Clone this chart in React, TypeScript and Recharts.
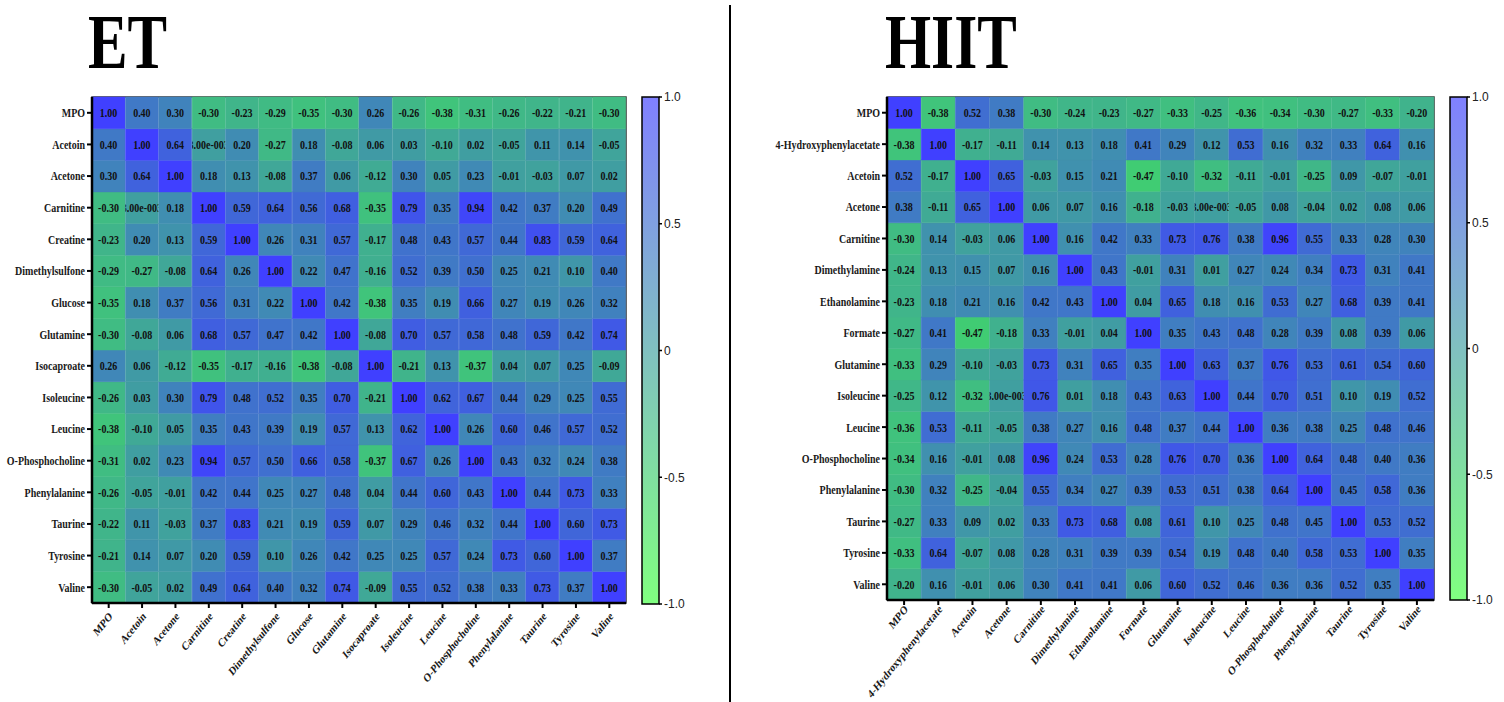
import React from 'react';
import { BarChart, Bar, Cell, XAxis, YAxis, LabelList, ReferenceArea } from 'recharts';

const etLabels = [
  'MPO', 'Acetoin', 'Acetone', 'Carnitine', 'Creatine', 'Dimethylsulfone', 'Glucose', 'Glutamine',
  'Isocaproate', 'Isoleucine', 'Leucine', 'O-Phosphocholine', 'Phenylalanine', 'Taurine', 'Tyrosine', 'Valine',
];

const etValues = [
  [1.0, 0.4, 0.3, -0.3, -0.23, -0.29, -0.35, -0.3, 0.26, -0.26, -0.38, -0.31, -0.26, -0.22, -0.21, -0.3],
  [0.4, 1.0, 0.64, 0.003, 0.2, -0.27, 0.18, -0.08, 0.06, 0.03, -0.1, 0.02, -0.05, 0.11, 0.14, -0.05],
  [0.3, 0.64, 1.0, 0.18, 0.13, -0.08, 0.37, 0.06, -0.12, 0.3, 0.05, 0.23, -0.01, -0.03, 0.07, 0.02],
  [-0.3, 0.003, 0.18, 1.0, 0.59, 0.64, 0.56, 0.68, -0.35, 0.79, 0.35, 0.94, 0.42, 0.37, 0.2, 0.49],
  [-0.23, 0.2, 0.13, 0.59, 1.0, 0.26, 0.31, 0.57, -0.17, 0.48, 0.43, 0.57, 0.44, 0.83, 0.59, 0.64],
  [-0.29, -0.27, -0.08, 0.64, 0.26, 1.0, 0.22, 0.47, -0.16, 0.52, 0.39, 0.5, 0.25, 0.21, 0.1, 0.4],
  [-0.35, 0.18, 0.37, 0.56, 0.31, 0.22, 1.0, 0.42, -0.38, 0.35, 0.19, 0.66, 0.27, 0.19, 0.26, 0.32],
  [-0.3, -0.08, 0.06, 0.68, 0.57, 0.47, 0.42, 1.0, -0.08, 0.7, 0.57, 0.58, 0.48, 0.59, 0.42, 0.74],
  [0.26, 0.06, -0.12, -0.35, -0.17, -0.16, -0.38, -0.08, 1.0, -0.21, 0.13, -0.37, 0.04, 0.07, 0.25, -0.09],
  [-0.26, 0.03, 0.3, 0.79, 0.48, 0.52, 0.35, 0.7, -0.21, 1.0, 0.62, 0.67, 0.44, 0.29, 0.25, 0.55],
  [-0.38, -0.1, 0.05, 0.35, 0.43, 0.39, 0.19, 0.57, 0.13, 0.62, 1.0, 0.26, 0.6, 0.46, 0.57, 0.52],
  [-0.31, 0.02, 0.23, 0.94, 0.57, 0.5, 0.66, 0.58, -0.37, 0.67, 0.26, 1.0, 0.43, 0.32, 0.24, 0.38],
  [-0.26, -0.05, -0.01, 0.42, 0.44, 0.25, 0.27, 0.48, 0.04, 0.44, 0.6, 0.43, 1.0, 0.44, 0.73, 0.33],
  [-0.22, 0.11, -0.03, 0.37, 0.83, 0.21, 0.19, 0.59, 0.07, 0.29, 0.46, 0.32, 0.44, 1.0, 0.6, 0.73],
  [-0.21, 0.14, 0.07, 0.2, 0.59, 0.1, 0.26, 0.42, 0.25, 0.25, 0.57, 0.24, 0.73, 0.6, 1.0, 0.37],
  [-0.3, -0.05, 0.02, 0.49, 0.64, 0.4, 0.32, 0.74, -0.09, 0.55, 0.52, 0.38, 0.33, 0.73, 0.37, 1.0],
];

const hiitLabels = [
  'MPO', '4-Hydroxyphenylacetate', 'Acetoin', 'Acetone', 'Carnitine', 'Dimethylamine', 'Ethanolamine', 'Formate',
  'Glutamine', 'Isoleucine', 'Leucine', 'O-Phosphocholine', 'Phenylalanine', 'Taurine', 'Tyrosine', 'Valine',
];

const hiitValues = [
  [1.0, -0.38, 0.52, 0.38, -0.3, -0.24, -0.23, -0.27, -0.33, -0.25, -0.36, -0.34, -0.3, -0.27, -0.33, -0.2],
  [-0.38, 1.0, -0.17, -0.11, 0.14, 0.13, 0.18, 0.41, 0.29, 0.12, 0.53, 0.16, 0.32, 0.33, 0.64, 0.16],
  [0.52, -0.17, 1.0, 0.65, -0.03, 0.15, 0.21, -0.47, -0.1, -0.32, -0.11, -0.01, -0.25, 0.09, -0.07, -0.01],
  [0.38, -0.11, 0.65, 1.0, 0.06, 0.07, 0.16, -0.18, -0.03, 0.003, -0.05, 0.08, -0.04, 0.02, 0.08, 0.06],
  [-0.3, 0.14, -0.03, 0.06, 1.0, 0.16, 0.42, 0.33, 0.73, 0.76, 0.38, 0.96, 0.55, 0.33, 0.28, 0.3],
  [-0.24, 0.13, 0.15, 0.07, 0.16, 1.0, 0.43, -0.01, 0.31, 0.01, 0.27, 0.24, 0.34, 0.73, 0.31, 0.41],
  [-0.23, 0.18, 0.21, 0.16, 0.42, 0.43, 1.0, 0.04, 0.65, 0.18, 0.16, 0.53, 0.27, 0.68, 0.39, 0.41],
  [-0.27, 0.41, -0.47, -0.18, 0.33, -0.01, 0.04, 1.0, 0.35, 0.43, 0.48, 0.28, 0.39, 0.08, 0.39, 0.06],
  [-0.33, 0.29, -0.1, -0.03, 0.73, 0.31, 0.65, 0.35, 1.0, 0.63, 0.37, 0.76, 0.53, 0.61, 0.54, 0.6],
  [-0.25, 0.12, -0.32, 0.003, 0.76, 0.01, 0.18, 0.43, 0.63, 1.0, 0.44, 0.7, 0.51, 0.1, 0.19, 0.52],
  [-0.36, 0.53, -0.11, -0.05, 0.38, 0.27, 0.16, 0.48, 0.37, 0.44, 1.0, 0.36, 0.38, 0.25, 0.48, 0.46],
  [-0.34, 0.16, -0.01, 0.08, 0.96, 0.24, 0.53, 0.28, 0.76, 0.7, 0.36, 1.0, 0.64, 0.48, 0.4, 0.36],
  [-0.3, 0.32, -0.25, -0.04, 0.55, 0.34, 0.27, 0.39, 0.53, 0.51, 0.38, 0.64, 1.0, 0.45, 0.58, 0.36],
  [-0.27, 0.33, 0.09, 0.02, 0.33, 0.73, 0.68, 0.08, 0.61, 0.1, 0.25, 0.48, 0.45, 1.0, 0.53, 0.52],
  [-0.33, 0.64, -0.07, 0.08, 0.28, 0.31, 0.39, 0.39, 0.54, 0.19, 0.48, 0.4, 0.58, 0.53, 1.0, 0.35],
  [-0.2, 0.16, -0.01, 0.06, 0.3, 0.41, 0.41, 0.06, 0.6, 0.52, 0.46, 0.36, 0.36, 0.52, 0.35, 1.0],
];

const colorbarTicks = [-1, -0.5, 0, 0.5, 1];
const colorbarData = [{ name: 'scale', range: [-1, 1] }];

const SERIF = '"Times New Roman", "Liberation Serif", serif';
const SANS = 'Arial, "Liberation Sans", sans-serif';
// the original figure is squeezed sideways, so all text gets the same squeeze
const SQUEEZE = 0.8;
const FONT = 12.5;

// green (-1) -> teal (0) -> blue (+1)
function cellColor(v: number) {
  const t = (v + 1) / 2;
  const g = Math.round(255 - 191 * t);
  const b = Math.round(64 + 191 * t);
  return `rgb(64, ${g}, ${b})`;
}

// Prism-style: tiny values get printed in exponent form
function formatValue(v: number) {
  if (v !== 0 && Math.abs(v) < 0.005) {
    const [m, e] = v.toExponential(2).split('e');
    return `${m}e${e[0]}${e.slice(1).padStart(3, '0')}`;
  }
  return v.toFixed(2);
}

function buildRows(labels: string[], values: number[][]) {
  return labels.map((name, c) => {
    const row: Record<string, any> = { name };
    values.forEach((vals, r) => {
      row[`r${r}`] = 1;
      row[`v${r}`] = vals[c];
    });
    return row;
  });
}

const CellLabel = (props: any) => {
  const { x, y, width, height, value } = props;
  return (
    <svg x={x} y={y} width={width} height={height} overflow="hidden">
      <g transform={`translate(${width / 2},${height / 2}) scale(${SQUEEZE},1)`}>
        <text
          x={0}
          y={0}
          textAnchor="middle"
          dominantBaseline="central"
          fontFamily={SERIF}
          fontWeight="bold"
          fontSize={FONT}
          fill="#111"
        >
          {formatValue(Number(value))}
        </text>
      </g>
    </svg>
  );
};

const XTick = (props: any) => {
  const { x, y, payload, offset = 2 } = props;
  return (
    <g transform={`translate(${x + 2},${y + offset}) scale(${SQUEEZE},1) rotate(-45)`}>
      <text
        textAnchor="end"
        dy="0.35em"
        fontFamily={SERIF}
        fontWeight="bold"
        fontSize={12}
        fill="#1a1a1a"
      >
        {payload.value}
      </text>
    </g>
  );
};

const YTick = (props: any) => {
  const { x, y, payload, tickFormatter } = props;
  const label = tickFormatter ? tickFormatter(payload.value) : payload.value;
  return (
    <g transform={`translate(${x},${y}) scale(${SQUEEZE},1)`}>
      <text
        textAnchor="end"
        dominantBaseline="central"
        fontFamily={SERIF}
        fontWeight="bold"
        fontSize={FONT}
        fill="#1a1a1a"
      >
        {label}
      </text>
    </g>
  );
};

function Heatmap({
  labels,
  values,
  width,
  yAxisWidth,
  marginLeft,
  marginRight,
  plotBottom,
  xAxisHeight,
  labelOffset,
}: {
  labels: string[];
  values: number[][];
  width: number;
  yAxisWidth: number;
  marginLeft: number;
  marginRight: number;
  plotBottom: number;
  xAxisHeight: number;
  labelOffset: number;
}) {
  const n = labels.length;
  const rows = buildRows(labels, values);
  const order = labels.map((_, i) => n - 1 - i);
  const rowName = (v: number) => labels[Math.round(n - 0.5 - v)];
  return (
    <BarChart
      width={width}
      height={702}
      data={rows}
      margin={{ top: 97, right: marginRight, bottom: 702 - plotBottom - xAxisHeight, left: marginLeft }}
      barCategoryGap={0}
      barGap={0}
    >
      <XAxis
        dataKey="name"
        interval={0}
        height={xAxisHeight}
        tick={<XTick offset={labelOffset} />}
        tickSize={5}
        tickMargin={2}
        axisLine={{ stroke: '#000', strokeWidth: 2.5 }}
        tickLine={{ stroke: '#000', strokeWidth: 2 }}
      />
      <YAxis
        type="number"
        domain={[0, n]}
        ticks={labels.map((_, i) => n - i - 0.5)}
        tickFormatter={rowName}
        interval={0}
        width={yAxisWidth}
        tickSize={5}
        tickMargin={2}
        axisLine={{ stroke: '#000', strokeWidth: 2.5 }}
        tickLine={{ stroke: '#000', strokeWidth: 2 }}
        tick={<YTick tickFormatter={rowName} />}
      />
      {order.map((r) => (
        <Bar key={r} dataKey={`r${r}`} stackId="m" isAnimationActive={false}>
          {labels.map((_, c) => (
            <Cell
              key={c}
              fill={cellColor(values[r][c])}
              stroke={cellColor(values[r][c])}
              strokeWidth={0.5}
            />
          ))}
          <LabelList dataKey={`v${r}`} content={CellLabel} />
        </Bar>
      ))}
      <ReferenceArea y1={0} y2={n} fill="none" stroke="#333" strokeWidth={1.5} ifOverflow="visible" />
    </BarChart>
  );
}

function Colorbar({ id, plotBottom }: { id: string; plotBottom: number }) {
  return (
    <BarChart
      width={70}
      height={702}
      data={colorbarData}
      margin={{ top: 97, right: 0, bottom: 702 - plotBottom, left: 12 }}
      barCategoryGap={0}
    >
      <defs>
        <linearGradient id={id} x1="0" y1="0" x2="0" y2="1">
          <stop offset="0%" stopColor="#8080ff" />
          <stop offset="50%" stopColor="#80c0c0" />
          <stop offset="100%" stopColor="#80ff80" />
        </linearGradient>
      </defs>
      <XAxis dataKey="name" hide />
      <YAxis
        orientation="right"
        type="number"
        domain={[-1, 1]}
        ticks={colorbarTicks}
        interval={0}
        width={41}
        axisLine={false}
        tickSize={3}
        tickMargin={2}
        tickLine={{ stroke: '#000', strokeWidth: 1.5 }}
        tickFormatter={(v: number) => (v === 0 ? '0' : v.toFixed(1))}
        tick={{ fontFamily: SANS, fontSize: 12, fill: '#222' }}
      />
      <Bar dataKey="range" fill={`url(#${id})`} stroke="#000" strokeWidth={1.5} isAnimationActive={false} />
    </BarChart>
  );
}

const titleStyle: React.CSSProperties = {
  position: 'absolute',
  top: 2,
  fontFamily: SERIF,
  fontWeight: 'bold',
  fontSize: 78,
  lineHeight: '80px',
  transform: 'scaleX(0.76)',
  transformOrigin: 'left top',
  color: '#000',
  whiteSpace: 'nowrap',
};

export default function App() {
  return (
    <div style={{ position: 'absolute', left: 0, top: 0, width: 1504, height: 702, background: '#fff' }}>
      <div style={{ ...titleStyle, left: 88 }}>ET</div>
      <div style={{ ...titleStyle, left: 885 }}>HIIT</div>
      <div style={{ position: 'absolute', left: 729, top: 5, width: 2, height: 697, background: '#000' }} />

      <div style={{ position: 'absolute', left: 0, top: 0 }}>
        <Heatmap
          labels={etLabels}
          values={etValues}
          width={640}
          yAxisWidth={80}
          marginLeft={12}
          marginRight={14}
          plotBottom={603}
          xAxisHeight={92}
          labelOffset={4}
        />
      </div>
      <div style={{ position: 'absolute', left: 630, top: 0 }}>
        <Colorbar id="cb-et" plotBottom={604} />
      </div>

      <div style={{ position: 'absolute', left: 740, top: 0 }}>
        <Heatmap
          labels={hiitLabels}
          values={hiitValues}
          width={700}
          yAxisWidth={140}
          marginLeft={7}
          marginRight={6}
          plotBottom={600}
          xAxisHeight={96}
          labelOffset={0}
        />
      </div>
      <div style={{ position: 'absolute', left: 1438, top: 0 }}>
        <Colorbar id="cb-hiit" plotBottom={600} />
      </div>
    </div>
  );
}
